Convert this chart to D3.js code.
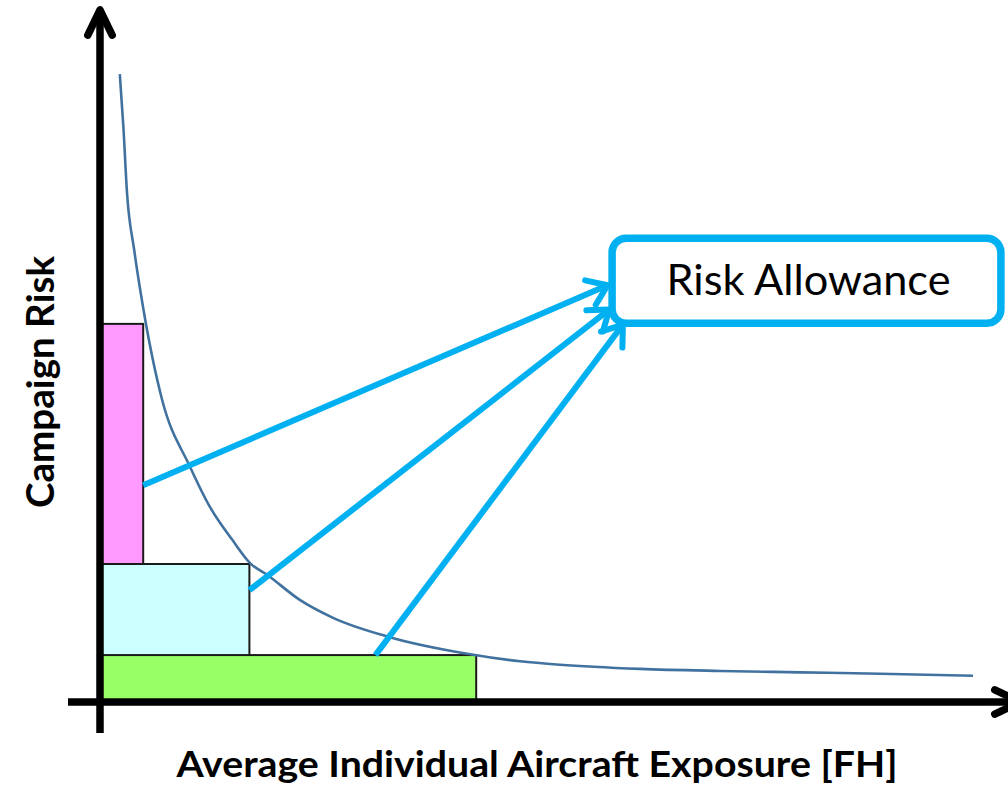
<!DOCTYPE html>
<html>
<head>
<meta charset="utf-8">
<script src="https://cdn.jsdelivr.net/npm/d3@7"></script>
<style>
  html, body { margin: 0; padding: 0; background: #fff; }
  svg { display: block; }
</style>
</head>
<body>
<svg id="chart" width="1008" height="792"></svg>
<script>
// Campaign risk vs. average exposure per aircraft (arbitrary units)
const curveX = [2.2, 2.6, 3.0, 3.8, 4.8, 6.9, 10.0, 12.2, 14.7, 16.7, 18.6, 22.2, 25.9, 32.2, 40.8, 46.7, 51.1, 60.0, 68.9, 77.8, 86.7, 97.0];
const curveY = [91.0, 83.3, 73.8, 65.5, 57.1, 43.8, 34.1, 28.3, 23.5, 20.1, 18.4, 14.8, 12.2, 9.4, 7.0, 5.9, 5.4, 4.8, 4.5, 4.3, 4.1, 3.8];

// Three campaign options: exposure (width) and risk (height)
const blockNames = ["short", "medium", "long"];
const blockExposure = [4.8, 16.6, 41.8];
const blockRisk = [54.8, 20.0, 6.8];
const blockColors = ["#ff99ff", "#ccffff", "#99ff66"];

// Arrow start points on each block, and where they meet the label box
const arrowFromX = [4.8, 16.6, 30.6];
const arrowFromY = [31.4, 16.2, 6.8];
const arrowToX = [56.4, 56.6, 58.1];
const arrowToY = [60.4, 56.9, 54.7];

// Label box extent
const boxX = [56.9, 100.1];
const boxY = [54.9, 67.2];
const boxLabel = "Risk Allowance";

const xTitle = "Average Individual Aircraft Exposure [FH]";
const yTitle = "Campaign Risk";

const svg = d3.select("#chart");
const x = d3.scaleLinear().domain([0, 100]).range([100, 1000]);
const y = d3.scaleLinear().domain([0, 100]).range([702, 12]);

const accent = "#00b0f0";

// Blocks
svg.append("g").selectAll("rect")
  .data(blockNames.map((n, i) => ({ n, w: blockExposure[i], h: blockRisk[i], c: blockColors[i] })))
  .join("rect")
  .attr("x", x(0))
  .attr("y", d => y(d.h))
  .attr("width", d => x(d.w) - x(0))
  .attr("height", d => y(0) - y(d.h))
  .attr("fill", d => d.c)
  .attr("stroke", "#1a1a1a")
  .attr("stroke-width", 2);

// Risk curve
const pts = curveX.map((v, i) => [v, curveY[i]]);
svg.append("path")
  .datum(pts)
  .attr("fill", "none")
  .attr("stroke", "#41729f")
  .attr("stroke-width", 2.6)
  .attr("d", d3.line().x(d => x(d[0])).y(d => y(d[1])).curve(d3.curveMonotoneX));

// Open arrowhead path at (tx,ty), pointing along angle a
function headPath(tx, ty, a, len, half) {
  const p1 = [tx - len * Math.cos(a - half), ty - len * Math.sin(a - half)];
  const p2 = [tx - len * Math.cos(a + half), ty - len * Math.sin(a + half)];
  return `M${p1[0]},${p1[1]}L${tx},${ty}L${p2[0]},${p2[1]}`;
}

// Arrows to the label box
const arrows = svg.append("g")
  .attr("stroke", accent)
  .attr("stroke-width", 6)
  .attr("fill", "none")
  .attr("stroke-linecap", "round")
  .attr("stroke-linejoin", "round");
arrowFromX.forEach((fx, i) => {
  const x0 = x(fx), y0 = y(arrowFromY[i]);
  const x1 = x(arrowToX[i]), y1 = y(arrowToY[i]);
  const a = Math.atan2(y1 - y0, x1 - x0);
  arrows.append("line")
    .attr("x1", x0).attr("y1", y0)
    .attr("x2", x1 - 2 * Math.cos(a)).attr("y2", y1 - 2 * Math.sin(a))
    .attr("stroke-linecap", "butt");
  arrows.append("path").attr("d", headPath(x1, y1, a, 23, 0.62));
});

// Label box
svg.append("rect")
  .attr("x", x(boxX[0]))
  .attr("y", y(boxY[1]))
  .attr("width", x(boxX[1]) - x(boxX[0]))
  .attr("height", y(boxY[0]) - y(boxY[1]))
  .attr("rx", 14)
  .attr("fill", "#fff")
  .attr("stroke", accent)
  .attr("stroke-width", 7.5);

svg.append("text")
  .attr("x", (x(boxX[0]) + x(boxX[1])) / 2 + 2)
  .attr("y", 295)
  .attr("text-anchor", "middle")
  .attr("font-family", "Lato, 'Open Sans', sans-serif")
  .attr("font-size", 42)
  .attr("textLength", 284)
  .attr("lengthAdjust", "spacingAndGlyphs")
  .attr("fill", "#000")
  .text(boxLabel);

// Axes with arrowheads
const axes = svg.append("g")
  .attr("stroke", "#000")
  .attr("stroke-width", 7.5)
  .attr("fill", "none")
  .attr("stroke-linejoin", "round");
axes.append("line")
  .attr("x1", x(0)).attr("y1", y(0) + 31)
  .attr("x2", x(0)).attr("y2", 12);
axes.append("path")
  .attr("stroke-linecap", "round")
  .attr("d", headPath(x(0), 10, -Math.PI / 2, 28, 0.45));
axes.append("line")
  .attr("x1", x(0) - 32).attr("y1", y(0))
  .attr("x2", 1018).attr("y2", y(0));
axes.append("path")
  .attr("stroke-linecap", "round")
  .attr("d", headPath(1020, y(0), 0, 28, 0.45));

// Axis titles
svg.append("text")
  .attr("x", 537)
  .attr("y", 777)
  .attr("text-anchor", "middle")
  .attr("font-family", "Lato, 'Open Sans', sans-serif")
  .attr("font-weight", "bold")
  .attr("font-size", 37)
  .attr("textLength", 721)
  .attr("lengthAdjust", "spacingAndGlyphs")
  .text(xTitle);

svg.append("text")
  .attr("transform", "translate(54,382) rotate(-90)")
  .attr("text-anchor", "middle")
  .attr("font-family", "Lato, 'Open Sans', sans-serif")
  .attr("font-weight", "bold")
  .attr("font-size", 38)
  .attr("textLength", 252)
  .attr("lengthAdjust", "spacingAndGlyphs")
  .text(yTitle);
</script>
</body>
</html>
